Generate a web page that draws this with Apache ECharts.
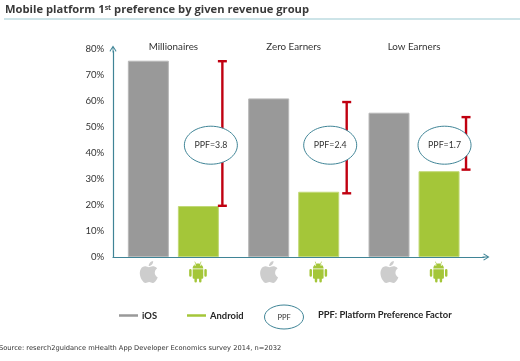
<!DOCTYPE html>
<html><head><meta charset="utf-8">
<style>html,body{margin:0;padding:0;background:#fff}#c{width:520px;height:361px}</style>
<script src="https://cdn.jsdelivr.net/npm/echarts@6/dist/echarts.min.js"></script>
</head><body><div id="c"></div>
<script>
const groups = ['Millionaires','Zero Earners','Low Earners'];
const ios = [75.5, 61, 55.5];
const android = [19.6, 25.1, 33];
const gapTop = [75.3, 59.6, 53.8];
const gapBottom = [19.7, 24.5, 33.6];
const ppf = ['PPF=3.8','PPF=2.4','PPF=1.7'];
const yTicks = [0,10,20,30,40,50,60,70,80];

const FONT = 'Lato';
const TEAL = '#3f8496';
const barOffsets = [49, 53, 52];
const ellipseOffsets = [37.5, 36.5, 30.5];
const ellipseLevel = 43;
const APPLE = 'M12.152 6.896c-.948 0-2.415-1.078-3.96-1.04-2.04.027-3.91 1.183-4.961 3.014-2.117 3.675-.546 9.103 1.519 12.09 1.013 1.454 2.208 3.09 3.792 3.039 1.52-.065 2.09-.987 3.935-.987 1.831 0 2.35.987 3.96.948 1.637-.026 2.676-1.48 3.676-2.948 1.156-1.688 1.636-3.325 1.662-3.415-.039-.013-3.182-1.221-3.22-4.857-.026-3.04 2.48-4.494 2.597-4.559-1.429-2.09-3.623-2.324-4.39-2.376-2-.156-3.675 1.09-4.61 1.09zM15.53 3.83c.843-1.012 1.4-2.427 1.245-3.83-1.207.052-2.662.805-3.532 1.818-.78.896-1.454 2.338-1.273 3.714 1.338.104 2.715-.688 3.559-1.701';
const ANDROID = 'M6 8.6C6 5.6 8.6 3 12 3S18 5.6 18 8.6ZM8 1L8.6 .6 10 3.4 9.4 3.8ZM16 1L15.4 .6 14 3.4 14.6 3.8ZM6 9.4H18V19A1.2 1.2 0 0 1 16.8 20.2H16V23A1.4 1.4 0 0 1 13.2 23V20.2H10.8V23A1.4 1.4 0 0 1 8 23V20.2H7.2A1.2 1.2 0 0 1 6 19ZM2 10.6A1.4 1.4 0 0 1 4.8 10.6V16.4A1.4 1.4 0 0 1 2 16.4ZM19.2 10.6A1.4 1.4 0 0 1 22 10.6V16.4A1.4 1.4 0 0 1 19.2 16.4Z';
const ARROW = 'path://M5 0L10 8L9 9L5.6 3.4V10H4.4V3.4L1 9L0 8Z';

const chart = echarts.init(document.getElementById('c'), null, {renderer:'canvas'});
chart.setOption({
  animation:false,
  textStyle:{fontFamily:FONT},
  title:[{
    left:0, top:-1,
    text:'{a|Mobile platform 1}{s|st}{a| preference by given revenue group}',
    textStyle:{rich:{
      a:{fontFamily:'Open Sans',fontWeight:'bold',fontSize:11.2,color:'#3a3a3a'},
      s:{fontFamily:'Open Sans',fontWeight:'bold',fontSize:7,color:'#3a3a3a',verticalAlign:'top',padding:[0,0,4,0]}
    }}
  },{
    left:-6, top:340,
    text:'Source: reserch2guidance mHealth App Developer Economics survey 2014, n=2032',
    textStyle:{fontFamily:'DejaVu Sans',fontWeight:'normal',fontSize:6.7,color:'#333'}
  }],
  legend:{
    left:114, top:306, data:['iOS','Android'], icon:'rect',
    itemWidth:19, itemHeight:2.5, itemGap:30,
    itemStyle:{borderWidth:0},
    textStyle:{fontFamily:FONT,fontWeight:'bold',fontSize:9.4,color:'#262626',padding:[0,0,0,-1]},
    selectedMode:false
  },
  grid:[
    {left:113.2, top:49, width:361, height:208},
    {left:113, top:51, width:371, height:206}
  ],
  xAxis:[
    {type:'category', gridIndex:0, position:'top', data:groups,
     axisLine:{show:false}, axisTick:{show:false},
     axisLabel:{margin:-3, fontFamily:FONT, fontSize:9.8, color:'#333', interval:0}},
    {type:'value', gridIndex:1, min:0, max:1,
     splitLine:{show:false}, axisTick:{show:false}, axisLabel:{show:false},
     axisLine:{show:true, onZero:false, lineStyle:{color:TEAL,width:1.2},
       symbol:['none',ARROW], symbolSize:[7,8], symbolOffset:[0,2]}}
  ],
  yAxis:[
    {type:'value', gridIndex:0, min:0, max:80, interval:10,
     axisLine:{show:false}, axisTick:{show:false}, splitLine:{show:false},
     axisLabel:{margin:9, fontFamily:FONT, fontSize:9.6, color:'#333',
       formatter:function(v){return yTicks.indexOf(v)>=0? v+'%':'';}}},
    {type:'value', gridIndex:1, min:0, max:1,
     splitLine:{show:false}, axisTick:{show:false}, axisLabel:{show:false},
     axisLine:{show:true, onZero:false, lineStyle:{color:TEAL,width:1.2},
       symbol:['none',ARROW], symbolSize:[7,8], symbolOffset:[0,2]}}
  ],
  series:[
    {name:'iOS', type:'bar', xAxisIndex:0, yAxisIndex:0, data:ios, barWidth:41, barGap:'22%',
     itemStyle:{color:'#999999', borderColor:'#b8b8b8', borderWidth:1}},
    {name:'Android', type:'bar', xAxisIndex:0, yAxisIndex:0, data:android, barWidth:41,
     itemStyle:{color:'#a4c639', borderColor:'#c2d977', borderWidth:1}},
    {name:'gap', type:'custom', xAxisIndex:0, yAxisIndex:0, z:5,
     data:groups.map((g,i)=>[i,gapTop[i],gapBottom[i]]),
     renderItem:function(p,api){
       const i=api.value(0);
       const t=api.coord([i,api.value(1)]), b=api.coord([i,api.value(2)]);
       const x=t[0]+barOffsets[i], s={stroke:'#c00010',lineWidth:2.4};
       return {type:'group',children:[
         {type:'line',shape:{x1:x,y1:t[1],x2:x,y2:b[1]},style:s},
         {type:'line',shape:{x1:x-4.5,y1:t[1],x2:x+4.5,y2:t[1]},style:s},
         {type:'line',shape:{x1:x-4.5,y1:b[1],x2:x+4.5,y2:b[1]},style:s}
       ]};
     }},
    {name:'ppf', type:'custom', xAxisIndex:0, yAxisIndex:0, z:6,
     data:groups.map((g,i)=>[i,ellipseLevel]),
     renderItem:function(p,api){
       const i=api.value(0), c=api.coord([i,api.value(1)]);
       const x=c[0]+ellipseOffsets[i];
       return {type:'group',children:[
         {type:'ellipse',shape:{cx:x,cy:c[1],rx:26.5,ry:19},
          style:{fill:'#fff',stroke:TEAL,lineWidth:1}},
         {type:'text',style:{x:x,y:c[1],text:ppf[i],align:'center',verticalAlign:'middle',
          fontFamily:FONT,fontSize:8.8,fill:'#333'},z2:10}
       ]};
     }},
    {name:'icons', type:'custom', xAxisIndex:0, yAxisIndex:0, z:4, clip:false,
     data:groups.map((g,i)=>[i,0]),
     renderItem:function(p,api){
       const c=api.coord([api.value(0),0]);
       const y=c[1]+15, ax=c[0]-24.6, bx=c[0]+24.6;
       return {type:'group',children:[
         {type:'path',shape:{pathData:APPLE,x:ax-9.5,y:y-11,width:19,height:22},style:{fill:'#cdcdcd'}},
         {type:'path',shape:{pathData:ANDROID,x:bx-9.5,y:y-10.5,width:19,height:21},style:{fill:'#a4c639'}},
         {type:'circle',shape:{cx:bx-2.8,cy:y-7,r:.7},style:{fill:'#fff'}},
         {type:'circle',shape:{cx:bx+2.8,cy:y-7,r:.7},style:{fill:'#fff'}}
       ]};
     }}
  ],
  graphic:[
    {type:'line',shape:{x1:4,y1:19,x2:520,y2:19},style:{stroke:'#9ccad2',lineWidth:1.2}},
    {type:'ellipse',shape:{cx:284,cy:317,rx:19.5,ry:12},style:{fill:'#fff',stroke:TEAL,lineWidth:1}},
    {type:'text',style:{x:284,y:318,text:'PPF',align:'center',verticalAlign:'middle',fontFamily:FONT,fontSize:7.5,fill:'#333'}},
    {type:'text',style:{x:318,y:315,text:'PPF: Platform Preference Factor',align:'left',verticalAlign:'middle',fontFamily:FONT,fontWeight:'bold',fontSize:9.4,fill:'#262626'}}
  ]
});
</script></body></html>
